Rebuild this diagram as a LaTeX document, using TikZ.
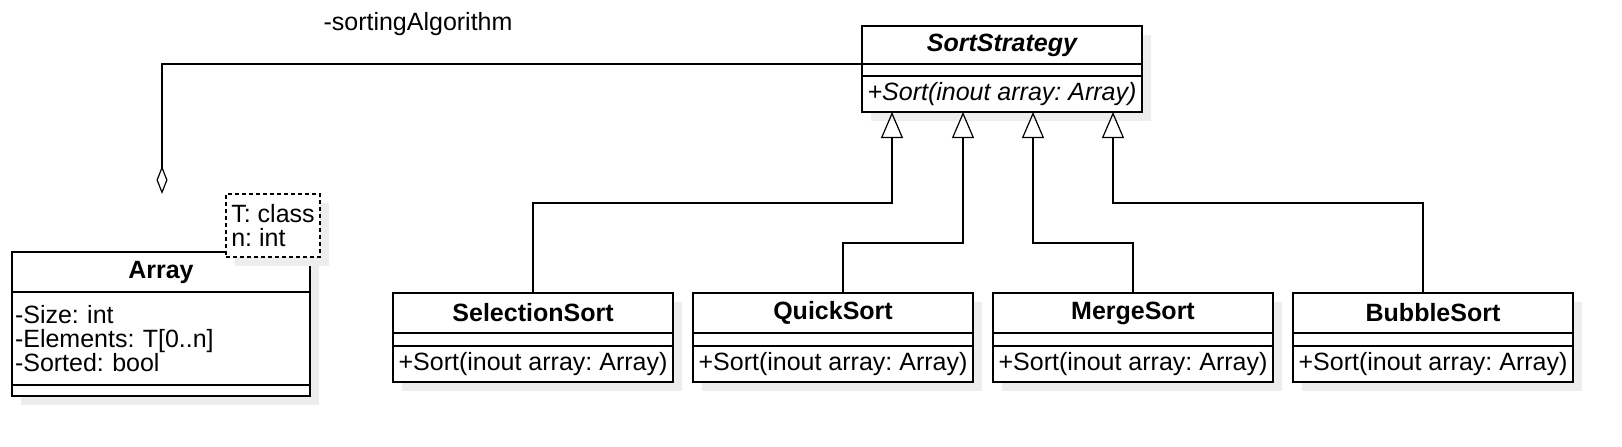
\documentclass[tikz,border=0pt]{standalone}
\usepackage{fontspec}
\setmainfont{Liberation Sans}
\usepackage{tikz}
\usetikzlibrary{positioning,calc,arrows.meta,shadows}

\newcommand{\umlfont}{\fontsize{12.5}{11.9}\selectfont\lineskiplimit=-3pt\frenchspacing}

\begin{document}
\begin{tikzpicture}
[
x=0.5pt, y=-0.5pt,
line width=0.6pt,
boxshadow/.style={drop shadow={shadow xshift=4.5pt, shadow yshift=-4.5pt, fill=black!7, opacity=1}},
classname/.style={draw, fill=white, boxshadow, outer sep=0pt, inner sep=0pt, minimum width=140pt, minimum height=20pt, font=\umlfont\bfseries},
classblank/.style={draw, fill=white, boxshadow, outer sep=0pt, inner sep=0pt, minimum width=140pt, minimum height=6.5pt},
classops/.style={draw, fill=white, boxshadow, outer sep=0pt, inner sep=0pt, minimum width=140pt, minimum height=18pt, align=left, font=\umlfont},
classattr/.style={draw, fill=white, boxshadow, outer sep=0pt, inner xsep=1.5pt, inner ysep=0pt, text width=146pt, minimum height=46.5pt, align=left, font=\umlfont},
param/.style={draw, dash pattern=on 2pt off 1.5pt, fill=white, boxshadow, outer sep=0pt, inner sep=0pt, minimum width=47pt, minimum height=31.5pt, align=left, font=\umlfont},
inherit/.style={-{Triangle[open, length=13pt, width=11pt]}},
aggregate/.style={-{Diamond[open, length=14pt, width=5.5pt]}}
]
\useasboundingbox (0,0) rectangle (1622,446);

%Nodes
\node[classname, minimum height=19pt, font=\umlfont\bfseries\itshape] (strategy) at (1002,45) {SortStrategy};
\node[classblank, minimum height=6pt, below=0pt of strategy] (strategy-attr) {};
\node[classops, font=\umlfont\itshape, below=0pt of strategy-attr] (strategy-ops) {+Sort(inout array: Array)};

\node[classname] (selection) at (533,313) {SelectionSort};
\node[classblank, below=0pt of selection] (selection-attr) {};
\node[classops, below=0pt of selection-attr] (selection-ops) {+Sort(inout array: Array)};

\node[classname, right=10pt of selection] (quick) {QuickSort};
\node[classblank, below=0pt of quick] (quick-attr) {};
\node[classops, below=0pt of quick-attr] (quick-ops) {+Sort(inout array: Array)};

\node[classname, right=10pt of quick] (merge) {MergeSort};
\node[classblank, below=0pt of merge] (merge-attr) {};
\node[classops, below=0pt of merge-attr] (merge-ops) {+Sort(inout array: Array)};

\node[classname, right=10pt of merge] (bubble) {BubbleSort};
\node[classblank, below=0pt of bubble] (bubble-attr) {};
\node[classops, below=0pt of bubble-attr] (bubble-ops) {+Sort(inout array: Array)};

\node[classname, minimum width=149pt] (array) at (161,272) {Array};
\node[classattr, below=0pt of array] (array-attr) {-Size: int\\-Elements: T[0..n]\\-Sorted: bool};
\node[classblank, minimum width=149pt, minimum height=5.5pt, below=0pt of array-attr] (array-ops) {};
\node[param] (template) at (273,225.5) {T: class\\n: int};

\node[font=\umlfont] (role) at (418,24) {-sortingAlgorithm};

%Points
\coordinate (aggend) at (162,194);
\coordinate (tipA) at ($(strategy-ops.south west)+(30,0)$);
\coordinate (tipB) at ($(strategy-ops.south west)+(101,0)$);
\coordinate (tipC) at ($(strategy-ops.south west)+(171,0)$);
\coordinate (tipD) at ($(strategy-ops.south west)+(251,0)$);

%Lines
\draw[aggregate] (strategy.south west) -| (aggend);
\draw[inherit] (selection.north) -- ++(0,-90) -| (tipA);
\draw[inherit] ($(quick.north)+(10,0)$) -- ++(0,-50) -| (tipB);
\draw[inherit] (merge.north) -- ++(0,-50) -| (tipC);
\draw[inherit] ($(bubble.north)+(-10,0)$) -- ++(0,-90) -| (tipD);

\end{tikzpicture}
\end{document}
